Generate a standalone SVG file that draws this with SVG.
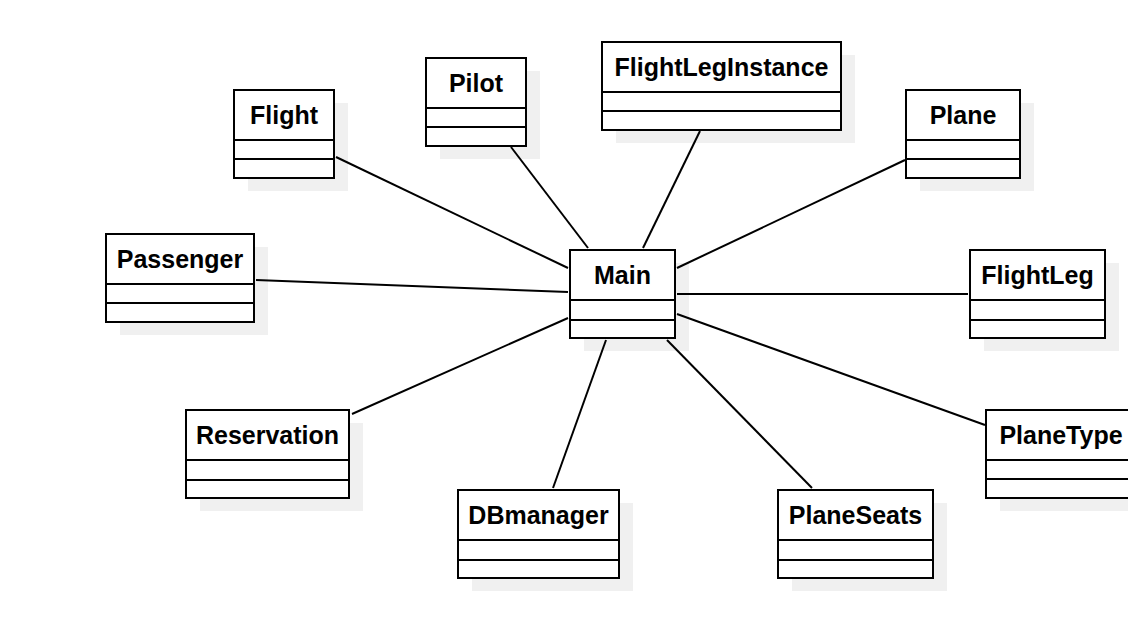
<svg xmlns="http://www.w3.org/2000/svg" width="1128" height="636" viewBox="0 0 1128 636">
<style>
.shadow{fill:#f0f0f0;stroke:none}
.box{fill:#fff;stroke:#000;stroke-width:2}
.div{stroke:#000;stroke-width:2}
.name{font-family:"Liberation Sans",Arial,sans-serif;font-weight:bold;font-size:25px;text-anchor:middle;fill:#000}
.conn line{stroke:#000;stroke-width:2}
</style>
<rect width="1128" height="636" fill="#fff"/>
<g id="Flight">
<rect class="shadow" x="248" y="103" width="100" height="88"/>
<rect class="box" x="234" y="90" width="100" height="88"/>
<line class="div" x1="234" y1="140" x2="334" y2="140"/><line class="div" x1="234" y1="159" x2="334" y2="159"/>
<text class="name" x="284" y="124">Flight</text>
</g>
<g id="Pilot">
<rect class="shadow" x="440" y="71" width="100" height="88"/>
<rect class="box" x="426" y="58" width="100" height="88"/>
<line class="div" x1="426" y1="108" x2="526" y2="108"/><line class="div" x1="426" y1="127" x2="526" y2="127"/>
<text class="name" x="476" y="92">Pilot</text>
</g>
<g id="FlightLegInstance">
<rect class="shadow" x="616" y="55" width="239" height="88"/>
<rect class="box" x="602" y="42" width="239" height="88"/>
<line class="div" x1="602" y1="92" x2="841" y2="92"/><line class="div" x1="602" y1="111" x2="841" y2="111"/>
<text class="name" x="721.5" y="76">FlightLegInstance</text>
</g>
<g id="Plane">
<rect class="shadow" x="920" y="103" width="114" height="88"/>
<rect class="box" x="906" y="90" width="114" height="88"/>
<line class="div" x1="906" y1="140" x2="1020" y2="140"/><line class="div" x1="906" y1="159" x2="1020" y2="159"/>
<text class="name" x="963" y="124">Plane</text>
</g>
<g id="Passenger">
<rect class="shadow" x="120" y="247" width="148" height="88"/>
<rect class="box" x="106" y="234" width="148" height="88"/>
<line class="div" x1="106" y1="284" x2="254" y2="284"/><line class="div" x1="106" y1="303" x2="254" y2="303"/>
<text class="name" x="180" y="268">Passenger</text>
</g>
<g id="Main">
<rect class="shadow" x="584" y="263" width="105" height="88"/>
<rect class="box" x="570" y="250" width="105" height="88"/>
<line class="div" x1="570" y1="300" x2="675" y2="300"/><line class="div" x1="570" y1="320" x2="675" y2="320"/>
<text class="name" x="622.5" y="284">Main</text>
</g>
<g id="FlightLeg">
<rect class="shadow" x="984" y="263" width="135" height="88"/>
<rect class="box" x="970" y="250" width="135" height="88"/>
<line class="div" x1="970" y1="300" x2="1105" y2="300"/><line class="div" x1="970" y1="320" x2="1105" y2="320"/>
<text class="name" x="1037.5" y="284">FlightLeg</text>
</g>
<g id="Reservation">
<rect class="shadow" x="200" y="423" width="163" height="88"/>
<rect class="box" x="186" y="410" width="163" height="88"/>
<line class="div" x1="186" y1="460" x2="349" y2="460"/><line class="div" x1="186" y1="480" x2="349" y2="480"/>
<text class="name" x="267.5" y="444">Reservation</text>
</g>
<g id="PlaneType">
<rect class="shadow" x="1000" y="423" width="150" height="88"/>
<rect class="box" x="986" y="410" width="150" height="88"/>
<line class="div" x1="986" y1="460" x2="1136" y2="460"/><line class="div" x1="986" y1="479" x2="1136" y2="479"/>
<text class="name" x="1061" y="444">PlaneType</text>
</g>
<g id="DBmanager">
<rect class="shadow" x="472" y="503" width="161" height="88"/>
<rect class="box" x="458" y="490" width="161" height="88"/>
<line class="div" x1="458" y1="540" x2="619" y2="540"/><line class="div" x1="458" y1="560" x2="619" y2="560"/>
<text class="name" x="538.5" y="524">DBmanager</text>
</g>
<g id="PlaneSeats">
<rect class="shadow" x="792" y="503" width="155" height="88"/>
<rect class="box" x="778" y="490" width="155" height="88"/>
<line class="div" x1="778" y1="540" x2="933" y2="540"/><line class="div" x1="778" y1="560" x2="933" y2="560"/>
<text class="name" x="855.5" y="524">PlaneSeats</text>
</g>
<g id="connectors" class="conn">
<line x1="336" y1="157" x2="568" y2="268"/>
<line x1="511" y1="147" x2="588" y2="248"/>
<line x1="700" y1="131" x2="643" y2="248"/>
<line x1="905" y1="160" x2="677" y2="268"/>
<line x1="256" y1="280" x2="568" y2="292"/>
<line x1="677" y1="294" x2="968" y2="294"/>
<line x1="352" y1="414" x2="568" y2="318"/>
<line x1="553" y1="488" x2="606" y2="340"/>
<line x1="812" y1="488" x2="667" y2="340"/>
<line x1="677" y1="314" x2="985" y2="425"/>
</g>
</svg>
